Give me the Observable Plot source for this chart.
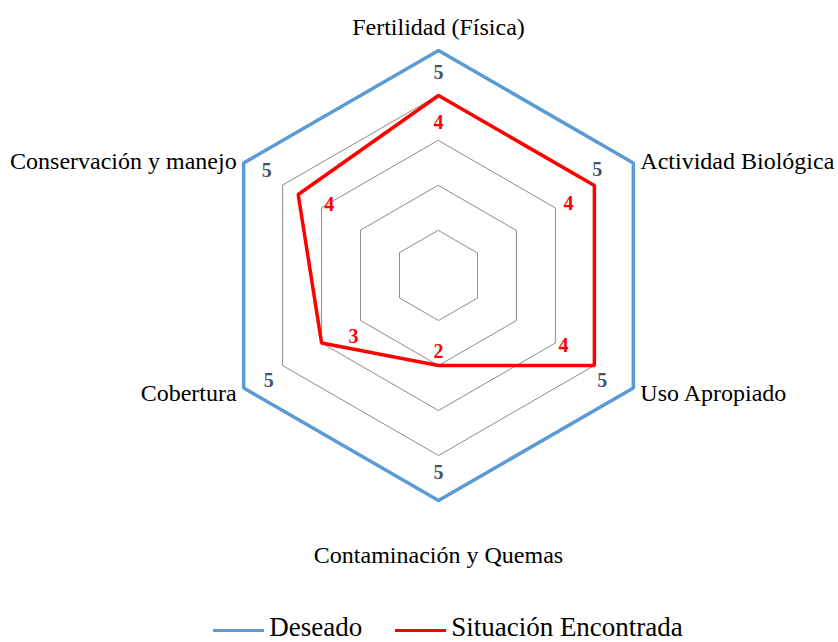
<!DOCTYPE html>
<html>
<head>
<meta charset="utf-8">
<script src="https://cdn.jsdelivr.net/npm/d3@7"></script>
<script src="https://cdn.jsdelivr.net/npm/@observablehq/plot@0.6"></script>
<style>
  html, body { margin: 0; padding: 0; background: #fff; }
  #chart svg { display: block; }
  #legend { display: flex; justify-content: center; align-items: center; gap: 33px; font-family: "Liberation Serif", "Times New Roman", serif; font-size: 27px; line-height: 27px; color: #000; height: 27px; margin-left: 58px; margin-top: 7px; }
  .item { display: flex; align-items: center; }
  .sw { width: 51px; height: 3.5px; margin-right: 5px; position: relative; top: 3px; }
</style>
</head>
<body>
<div id="chart"></div>
<div id="legend"></div>
<script>
const categories = ["Fertilidad (Física)", "Actividad Biológica", "Uso Apropiado", "Contaminación y Quemas", "Cobertura", "Conservación y manejo"];
const deseado = [5, 5, 5, 5, 5, 5];
const encontrada = [4, 4, 4, 2, 3, 3.6];
const encontradaLabels = ["4", "4", "4", "2", "3", "4"];
const deseadoLabels = ["5", "5", "5", "5", "5", "5"];
const gridLevels = [1, 2, 3, 4];
const seriesNames = ["Deseado", "Situación Encontrada"];

const W = 838, H = 607;
const CX = 438, CY = 275, UNIT = 45;
const BLUE = "#5B9BD5", RED = "#FF0000", SLATE = "#44546A", GRID = "#8C8C8C";
const FONT = "Liberation Serif, Times New Roman, serif";

const n = categories.length;
const ang = i => i * 2 * Math.PI / n;
const px = (r, i) => r * Math.sin(ang(i));
const py = (r, i) => r * Math.cos(ang(i));

const gridData = gridLevels.flatMap(l => categories.map((c, i) => ({level: l, i})));
const desData = deseado.map((v, i) => ({v, i, label: deseadoLabels[i]}));
const encData = encontrada.map((v, i) => ({v, i, label: encontradaLabels[i]}));

// label offsets in pixels (per axis direction)
const desOff = [[0, 22], [-36, 7], [-31, -7], [0, -28], [25, -7], [23, 8]];
const encOff = [[0, 27], [-26, 18], [-31, -20], [0, -14], [32, -6], [31, 10]];

const labelMarks = (data, off, color) => data.map((d, k) =>
  Plot.text([d], {
    x: d => px(d.v, d.i), y: d => py(d.v, d.i), text: "label",
    dx: off[k][0], dy: off[k][1], fill: color, fontWeight: "bold", fontSize: 20,
    fontFamily: FONT, textAnchor: "middle", lineAnchor: "middle"
  }));

const catData = categories.map((c, i) => ({c, i}));
const anchorOf = i => (i === 0 || i === 3) ? "middle" : (i < 3 ? "start" : "end");
const catOff = [[0, -23], [7, -2], [7, 5], [0, 55], [-7, 5], [-7, -2]];

const catMarks = catData.map((d, k) =>
  Plot.text([d], {
    x: d => px(5, d.i), y: d => py(5, d.i), text: "c",
    dx: catOff[k][0], dy: catOff[k][1], fill: "#000", fontSize: 24,
    fontFamily: FONT, textAnchor: anchorOf(d.i), lineAnchor: "middle"
  }));

const plot = Plot.plot({
  width: W, height: H,
  margin: 0,
  x: {domain: [-CX / UNIT, (W - CX) / UNIT], axis: null},
  y: {domain: [-(H - CY) / UNIT, CY / UNIT], axis: null},
  style: {background: "#fff"},
  marks: [
    Plot.line(gridData, {x: d => px(d.level, d.i), y: d => py(d.level, d.i), z: "level", curve: "linear-closed", stroke: GRID, strokeWidth: 1}),
    Plot.line(desData, {x: d => px(d.v, d.i), y: d => py(d.v, d.i), curve: "linear-closed", stroke: BLUE, strokeWidth: 3.5, strokeLinejoin: "miter"}),
    Plot.line(encData, {x: d => px(d.v, d.i), y: d => py(d.v, d.i), curve: "linear-closed", stroke: RED, strokeWidth: 3.5, strokeLinejoin: "miter"}),
    ...labelMarks(desData, desOff, SLATE),
    ...labelMarks(encData, encOff, RED),
    ...catMarks
  ]
});
document.getElementById("chart").appendChild(plot);

const legend = document.getElementById("legend");
[[seriesNames[0], BLUE], [seriesNames[1], RED]].forEach(([name, col]) => {
  const it = document.createElement("div");
  it.className = "item";
  const sw = document.createElement("div");
  sw.className = "sw"; sw.style.background = col;
  const t = document.createElement("span");
  t.textContent = name;
  it.appendChild(sw); it.appendChild(t);
  legend.appendChild(it);
});
</script>
</body>
</html>
